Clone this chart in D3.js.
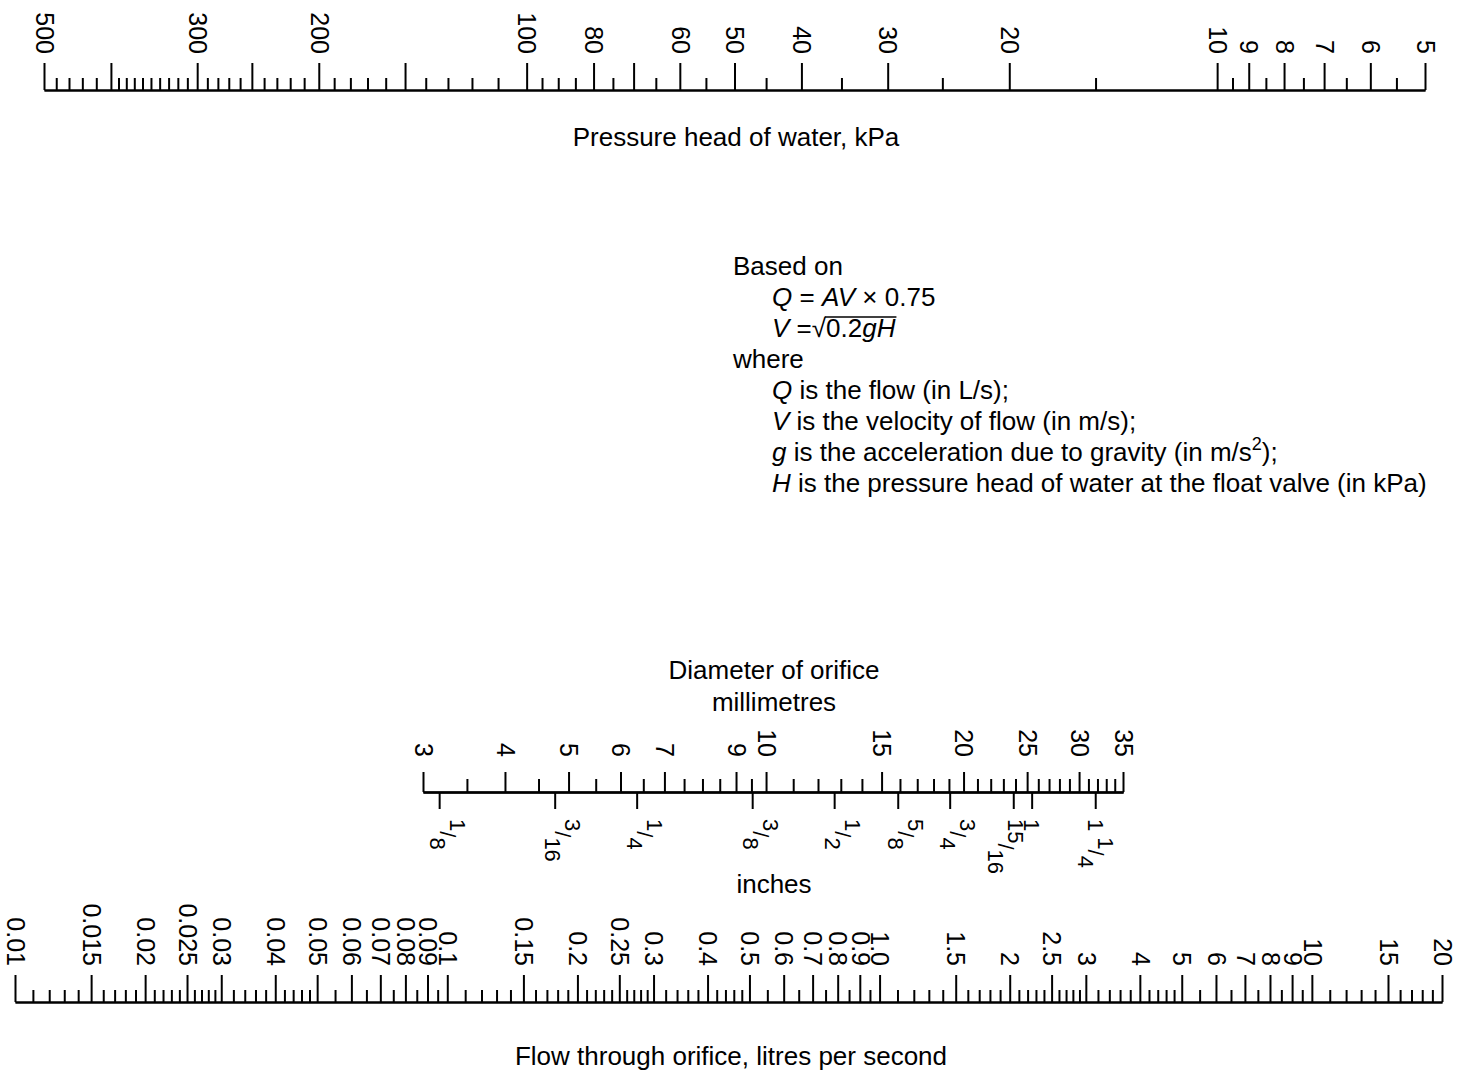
<!DOCTYPE html>
<html>
<head>
<meta charset="utf-8">
<title>orifice flow nomogram</title>
<script src="https://d3js.org/d3.v7.min.js"></script>
<style>
  body { margin: 0; background: #fff; }
  svg { display: block; font-family: "Liberation Sans", Arial, sans-serif; }
  .axis line, .axis path { stroke: #000; stroke-width: 2; }
  .axis text { fill: #000; }
</style>
</head>
<body>
<script>
// pressure scale (kPa)
var pressureMajor = [500, 400, 300, 250, 200, 150, 100, 80, 70, 60, 50, 40, 30, 20, 10, 9, 8, 7, 6, 5];
var pressureMinor = [480, 460, 440, 420, 390, 380, 370, 360, 350, 340, 330, 320, 310,
  290, 280, 270, 260, 240, 230, 220, 210, 190, 180, 170, 160, 140, 130, 120, 110,
  95, 90, 85, 75, 65, 55, 45, 35, 25, 15, 9.5, 8.5, 7.5, 6.5, 5.5];
var pressureLabels = [500, 300, 200, 100, 80, 60, 50, 40, 30, 20, 10, 9, 8, 7, 6, 5];

// orifice diameter (mm) and inch equivalents
var mmMajor = [3, 4, 5, 6, 7, 9, 10, 15, 20, 25, 30, 35];
var mmMinor = [3.5, 4.5, 5.5, 6.5, 7.5, 8, 8.5, 9.5, 11, 12, 13, 14, 16, 17, 18, 19,
  21, 22, 23, 24, 26, 27, 28, 29, 31, 32, 33, 34];
var inchValues = [0.125, 0.1875, 0.25, 0.375, 0.5, 0.625, 0.75, 0.9375, 1, 1.25];
var inchWhole = ["", "", "", "", "", "", "", "", "1", "1"];
var inchNum = ["1", "3", "1", "3", "1", "5", "3", "15", "", "1"];
var inchDen = ["8", "16", "4", "8", "2", "8", "4", "16", "", "4"];

// flow (L/s)
var flowMajor = [0.01, 0.015, 0.02, 0.025, 0.03, 0.04, 0.05, 0.06, 0.07, 0.08, 0.09, 0.1,
  0.15, 0.2, 0.25, 0.3, 0.4, 0.5, 0.6, 0.7, 0.8, 0.9, 1, 1.5, 2, 2.5, 3, 4, 5, 6, 7, 8, 9, 10, 15, 20];
var flowLabels = ["0.01", "0.015", "0.02", "0.025", "0.03", "0.04", "0.05", "0.06", "0.07", "0.08", "0.09", "0.1",
  "0.15", "0.2", "0.25", "0.3", "0.4", "0.5", "0.6", "0.7", "0.8", "0.9", "1.0", "1.5", "2", "2.5", "3", "4",
  "5", "6", "7", "8", "9", "10", "15", "20"];
var flowMinor = [0.011, 0.012, 0.013, 0.014, 0.016, 0.017, 0.018, 0.019, 0.021, 0.022, 0.023, 0.024,
  0.026, 0.027, 0.028, 0.029, 0.032, 0.034, 0.036, 0.038, 0.042, 0.044, 0.046, 0.048,
  0.055, 0.065, 0.075, 0.085, 0.095,
  0.11, 0.12, 0.13, 0.14, 0.16, 0.17, 0.18, 0.19, 0.21, 0.22, 0.23, 0.24,
  0.26, 0.27, 0.28, 0.29, 0.32, 0.34, 0.36, 0.38, 0.42, 0.44, 0.46, 0.48,
  0.55, 0.65, 0.75, 0.85, 0.95,
  1.1, 1.2, 1.3, 1.4, 1.6, 1.7, 1.8, 1.9, 2.1, 2.2, 2.3, 2.4,
  2.6, 2.7, 2.8, 2.9, 3.2, 3.4, 3.6, 3.8, 4.2, 4.4, 4.6, 4.8,
  5.5, 6.5, 7.5, 8.5, 9.5,
  11, 12, 13, 14, 16, 17, 18, 19];

var w = 1463, h = 1070;
var labelSize = 25, titleSize = 26;

var svg = d3.select("body").append("svg")
  .attr("width", w)
  .attr("height", h);

function cleanAxis(g) {
  g.attr("font-size", null).attr("font-family", null).attr("class", "axis");
}

function rotateLabels(g, gap, up) {
  g.selectAll(".tick text")
    .attr("y", null)
    .attr("dy", "0.35em")
    .attr("font-size", labelSize)
    .attr("text-anchor", up ? "end" : "start")
    .attr("transform", "translate(0," + (up ? -gap : gap) + ") rotate(90)");
}

// ---- pressure head ----
var pScale = d3.scaleLog().domain([500, 5]).range([44, 1425]);
var pY = 90;

svg.append("g")
  .attr("transform", "translate(0," + pY + ")")
  .call(d3.axisTop(pScale).tickValues(pressureMinor).tickSize(12).tickSizeOuter(0).tickFormat(""))
  .call(cleanAxis);

svg.append("g")
  .attr("transform", "translate(0," + pY + ")")
  .call(d3.axisTop(pScale).tickValues(pressureMajor).tickSize(27).tickSizeOuter(0)
    .tickFormat(function (d) { return pressureLabels.indexOf(d) >= 0 ? d : ""; }))
  .call(cleanAxis)
  .call(rotateLabels, 36, true);

svg.append("text")
  .attr("x", 736).attr("y", 146)
  .attr("text-anchor", "middle")
  .attr("font-size", titleSize)
  .text("Pressure head of water, kPa");

// ---- formula note ----
var noteX = 733, indentX = 772, noteY = 275, lineH = 31;
var noteLines = [
  { ind: 0, parts: [["Based on"]] },
  { ind: 1, parts: [["Q", 1], [" = "], ["AV", 1], [" \u00d7 0.75"]] },
  { ind: 1, parts: [["V", 1], [" =\u221a0.2"], ["gH", 1]] },
  { ind: 0, parts: [["where"]] },
  { ind: 1, parts: [["Q", 1], [" is the flow (in L/s);"]] },
  { ind: 1, parts: [["V", 1], [" is the velocity of flow (in m/s);"]] },
  { ind: 1, parts: [["g", 1], [" is the acceleration due to gravity (in m/s"], ["2", 0, 1], [");"]] },
  { ind: 1, parts: [["H", 1], [" is the pressure head of water at the float valve (in kPa)"]] }
];

noteLines.forEach(function (ln, i) {
  var t = svg.append("text")
    .attr("x", ln.ind ? indentX : noteX)
    .attr("y", noteY + i * lineH)
    .attr("font-size", titleSize)
    .style("white-space", "pre");
  var raised = false;
  ln.parts.forEach(function (p) {
    var s = t.append("tspan").text(p[0]);
    if (p[1]) s.attr("font-style", "italic");
    if (p[2]) {
      s.attr("font-size", 18).attr("dy", -11);
      raised = true;
    } else if (raised) {
      s.attr("dy", 11);
      raised = false;
    }
  });
  if (i === 2) {
    var node = t.node();
    var root = node.getExtentOfChar(3);
    var endX = node.getEndPositionOfChar(8).x;
    var oy = noteY + i * lineH - 20;
    svg.append("line")
      .attr("x1", root.x + root.width - 1).attr("x2", endX + 1)
      .attr("y1", oy).attr("y2", oy)
      .attr("stroke", "#000").attr("stroke-width", 1.5);
  }
});

// ---- orifice diameter ----
var dScale = d3.scaleLog().domain([3, 35]).range([423, 1123]);
var inchScale = d3.scaleLog().domain([3 / 25.4, 35 / 25.4]).range(dScale.range());
var dY = 792;

svg.append("text")
  .attr("x", 774).attr("y", 679)
  .attr("text-anchor", "middle")
  .attr("font-size", titleSize)
  .text("Diameter of orifice");
svg.append("text")
  .attr("x", 774).attr("y", 711)
  .attr("text-anchor", "middle")
  .attr("font-size", titleSize)
  .text("millimetres");

svg.append("g")
  .attr("transform", "translate(0," + dY + ")")
  .call(d3.axisTop(dScale).tickValues(mmMinor).tickSize(13).tickSizeOuter(0).tickFormat(""))
  .call(cleanAxis);

svg.append("g")
  .attr("transform", "translate(0," + dY + ")")
  .call(d3.axisTop(dScale).tickValues(mmMajor).tickSize(20).tickSizeOuter(0).tickFormat(function (d) { return d; }))
  .call(cleanAxis)
  .call(rotateLabels, 35, true);

var inchAxis = svg.append("g")
  .attr("transform", "translate(0," + dY + ")")
  .call(d3.axisBottom(inchScale).tickValues(inchValues).tickSize(17).tickSizeOuter(0).tickFormat(""))
  .call(cleanAxis);

// 15/16 sits close to the 1" mark, so its label is pulled left
var inchShift = { 7: -16 };

inchAxis.selectAll(".tick").each(function (d, i) {
  var g = d3.select(this);
  g.select("text").remove();
  var t = g.append("text")
    .attr("font-size", 22)
    .attr("text-anchor", "start")
    .attr("dy", "0.35em")
    .attr("transform", "translate(" + (inchShift[i] || 0) + ",27) rotate(90)")
    .style("white-space", "pre");
  if (inchWhole[i]) t.append("tspan").text(inchWhole[i] + (inchNum[i] ? " " : ""));
  if (inchNum[i]) {
    t.append("tspan").attr("dy", "-0.45em").text(inchNum[i]);
    t.append("tspan").attr("dy", "0.45em").text("/");
    t.append("tspan").attr("dy", "0.45em").text(inchDen[i]);
  }
});

svg.append("text")
  .attr("x", 774).attr("y", 893)
  .attr("text-anchor", "middle")
  .attr("font-size", titleSize)
  .text("inches");

// ---- flow ----
var fScale = d3.scaleLog().domain([0.01, 20]).range([15, 1442]);
var fY = 1002;

svg.append("g")
  .attr("transform", "translate(0," + fY + ")")
  .call(d3.axisTop(fScale).tickValues(flowMinor).tickSize(12).tickSizeOuter(0).tickFormat(""))
  .call(cleanAxis);

svg.append("g")
  .attr("transform", "translate(0," + fY + ")")
  .call(d3.axisTop(fScale).tickValues(flowMajor).tickSize(27).tickSizeOuter(0)
    .tickFormat(function (d, i) { return flowLabels[i]; }))
  .call(cleanAxis)
  .call(rotateLabels, 36, true);

svg.append("text")
  .attr("x", 731).attr("y", 1065)
  .attr("text-anchor", "middle")
  .attr("font-size", titleSize)
  .text("Flow through orifice, litres per second");
</script>
</body>
</html>
